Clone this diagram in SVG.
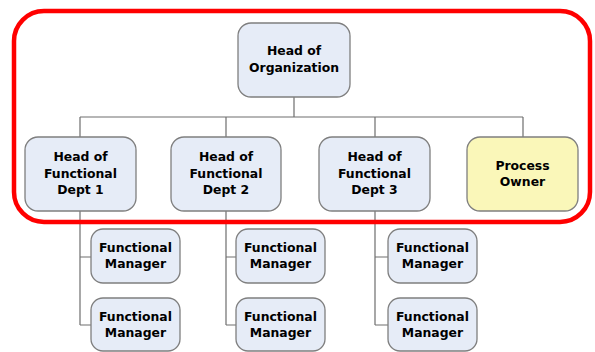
<svg xmlns="http://www.w3.org/2000/svg" width="595" height="352" viewBox="0 0 595 352">
<style>
.b{fill:#E6ECF7;stroke:#7F7F7F;stroke-width:1.3}
.y{fill:#FAF7B9;stroke:#7F7F7F;stroke-width:1.3}
text{font-family:"DejaVu Sans",Verdana,sans-serif;font-weight:bold;font-size:12.4px;fill:#000;text-anchor:middle}
.c{fill:none;stroke:#6E6E6E;stroke-width:1.2}
</style>
<rect width="595" height="352" fill="#fff"/>
<g id="connectors">
<path class="c" d="M294,97V117M80,117H523M80,117V137M226,117V137M375,117V137M523,117V137"/>
<path class="c" d="M80,211V325M80,257H91M80,325H91"/>
<path class="c" d="M226,211V325M226,257H236M226,325H236"/>
<path class="c" d="M375,211V325M375,257H388M375,325H388"/>
</g>
<g id="head-org"><rect class="b" x="238" y="23" width="112" height="74" rx="13"/><text x="294" y="55">Head of</text><text x="294" y="72">Organization</text></g>
<g id="dept1"><rect class="b" x="25" y="137" width="111" height="74" rx="13"/><text x="80.5" y="161">Head of</text><text x="80.5" y="178">Functional</text><text x="80.5" y="194">Dept 1</text></g>
<g id="dept2"><rect class="b" x="171" y="137" width="110" height="74" rx="13"/><text x="226" y="161">Head of</text><text x="226" y="178">Functional</text><text x="226" y="194">Dept 2</text></g>
<g id="dept3"><rect class="b" x="319" y="137" width="111" height="74" rx="13"/><text x="374.5" y="161">Head of</text><text x="374.5" y="178">Functional</text><text x="374.5" y="194">Dept 3</text></g>
<g id="process-owner"><rect class="y" x="467" y="137" width="111" height="74" rx="13"/><text x="522.5" y="170">Process</text><text x="522.5" y="186">Owner</text></g>
<g id="fm1a"><rect class="b" x="91" y="229" width="89" height="54" rx="12"/><text x="135.5" y="252">Functional</text><text x="135.5" y="268">Manager</text></g>
<g id="fm1b"><rect class="b" x="91" y="298" width="89" height="53" rx="12"/><text x="135.5" y="321">Functional</text><text x="135.5" y="337">Manager</text></g>
<g id="fm2a"><rect class="b" x="236" y="229" width="89" height="54" rx="12"/><text x="280.5" y="252">Functional</text><text x="280.5" y="268">Manager</text></g>
<g id="fm2b"><rect class="b" x="236" y="298" width="89" height="53" rx="12"/><text x="280.5" y="321">Functional</text><text x="280.5" y="337">Manager</text></g>
<g id="fm3a"><rect class="b" x="388" y="229" width="89" height="54" rx="12"/><text x="432.5" y="252">Functional</text><text x="432.5" y="268">Manager</text></g>
<g id="fm3b"><rect class="b" x="388" y="298" width="89" height="53" rx="12"/><text x="432.5" y="321">Functional</text><text x="432.5" y="337">Manager</text></g>
<g id="scope"><rect x="14" y="11" width="576" height="211" rx="30" fill="none" stroke="#FF0000" stroke-width="4.5"/></g>
</svg>
